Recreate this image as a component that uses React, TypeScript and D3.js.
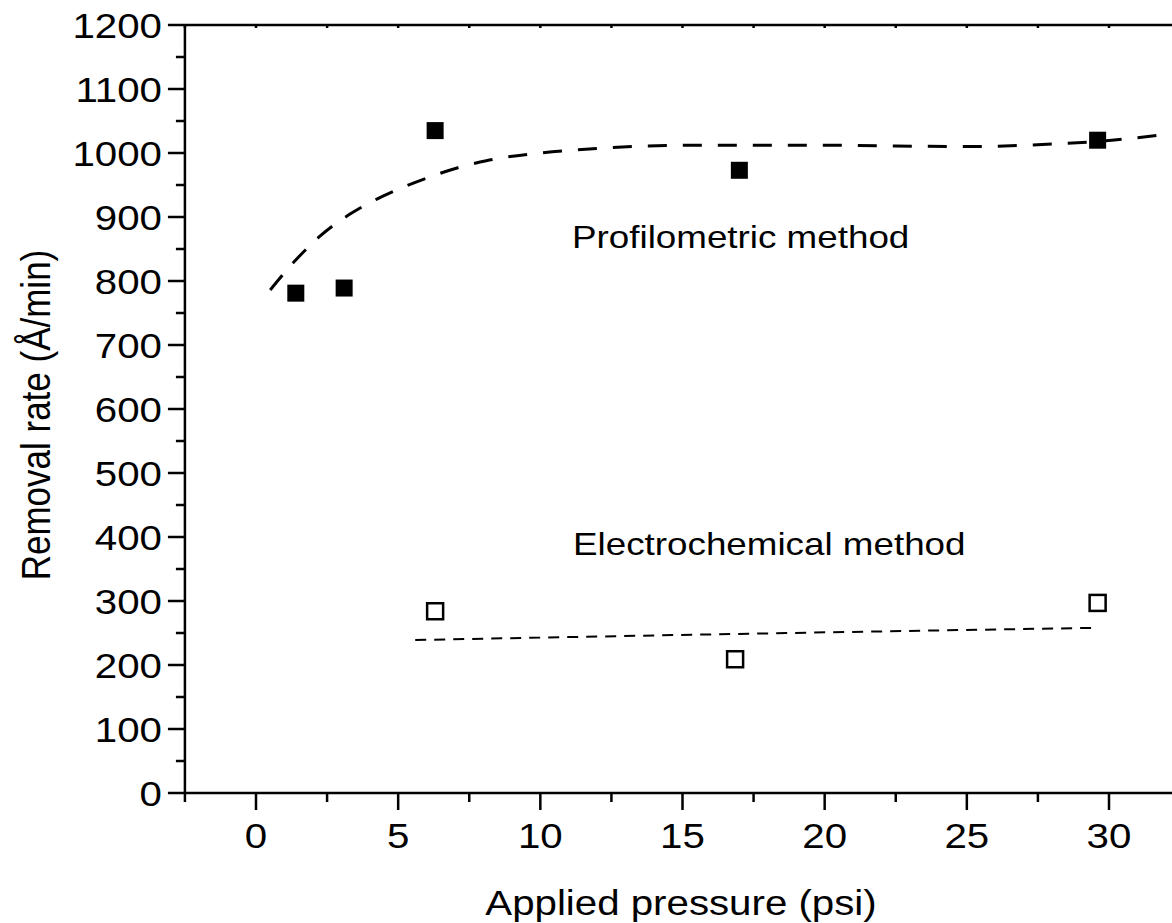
import React from "react";
import * as d3 from "d3";

const profX = [1.4, 3.1, 6.3, 17.0, 29.6];
const profY = [781, 789, 1035, 973, 1020];
const elecX = [6.3, 16.85, 29.6];
const elecY = [284, 209, 297];

const profFitX = [0.5, 1.3, 2.25, 3.25, 4.25, 5.2, 6.2, 7.1, 8.1, 10, 12, 15, 20, 25, 28, 29.6, 31.8];
const profFitY = [786, 828, 870, 903, 928, 947, 964, 977, 988, 1000, 1007, 1012, 1012, 1010, 1014, 1018, 1028];
const elecFitX = [5.6, 17.5, 29.4];
const elecFitY = [239, 249, 258];

const xMajor = [0, 5, 10, 15, 20, 25, 30];
const xMinor = [-2.5, 2.5, 7.5, 12.5, 17.5, 22.5, 27.5];
const yMajor = [0, 100, 200, 300, 400, 500, 600, 700, 800, 900, 1000, 1100, 1200];
const yMinor = [50, 150, 250, 350, 450, 550, 650, 750, 850, 950, 1050, 1150];

const W = 1172;
const H = 923;
const FONT = "Arial, 'Liberation Sans', Helvetica, sans-serif";
const SX = 1.15;

export default function App() {
  const x = d3.scaleLinear().domain([0, 30]).range([256, 1109]);
  const y = d3.scaleLinear().domain([0, 1200]).range([793, 25]);
  const left = x(-2.5);
  const bottom = y(0);
  const top = y(1200);

  const line = d3
    .line<[number, number]>()
    .x((d) => x(d[0]))
    .y((d) => y(d[1]))
    .curve(d3.curveMonotoneX);

  const profFit = profFitX.map((v, i) => [v, profFitY[i]] as [number, number]);
  const elecFit = elecFitX.map((v, i) => [v, elecFitY[i]] as [number, number]);

  const s = 17;
  const so = 16;

  return (
    <svg
      width={W}
      height={H}
      style={{ position: "absolute", left: 0, top: 0, background: "#fff" }}
      fontFamily={FONT}
    >
      <rect x={0} y={0} width={W} height={H} fill="#fff" />
      {/* axes lines */}
      <line x1={left} x2={W} y1={bottom} y2={bottom} stroke="#000" strokeWidth={2.5} />
      <line x1={left} x2={W} y1={top} y2={top} stroke="#000" strokeWidth={2.5} />
      <line x1={left} x2={left} y1={top} y2={bottom} stroke="#000" strokeWidth={2.5} />

      {/* x ticks */}
      {xMajor.map((v) => (
        <g key={"xM" + v}>
          <line x1={x(v)} x2={x(v)} y1={bottom} y2={bottom + 17} stroke="#000" strokeWidth={2.5} />
          <line x1={x(v)} x2={x(v)} y1={top} y2={top + 3} stroke="#000" strokeWidth={2.5} />
          <text
            transform={`translate(${x(v)},${848}) scale(${SX},1)`}
            textAnchor="middle"
            fontSize={35}
          >
            {v}
          </text>
        </g>
      ))}
      {xMinor.map((v) => (
        <g key={"xm" + v}>
          <line x1={x(v)} x2={x(v)} y1={bottom} y2={bottom + 9} stroke="#000" strokeWidth={2.5} />
          <line x1={x(v)} x2={x(v)} y1={top} y2={top + 3} stroke="#000" strokeWidth={2.5} />
        </g>
      ))}

      {/* y ticks */}
      {yMajor.map((v) => (
        <g key={"yM" + v}>
          <line x1={left - 17} x2={left} y1={y(v)} y2={y(v)} stroke="#000" strokeWidth={2.5} />
          <text
            transform={`translate(${162},${y(v) + 12.5}) scale(${SX},1)`}
            textAnchor="end"
            fontSize={35}
          >
            {v}
          </text>
        </g>
      ))}
      {yMinor.map((v) => (
        <line key={"ym" + v} x1={left - 9} x2={left} y1={y(v)} y2={y(v)} stroke="#000" strokeWidth={2.5} />
      ))}

      {/* fits */}
      <path
        d={line(profFit) || ""}
        fill="none"
        stroke="#000"
        strokeWidth={3}
        strokeDasharray="19 16"
      />
      <path
        d={line(elecFit) || ""}
        fill="none"
        stroke="#000"
        strokeWidth={2}
        strokeDasharray="11 8"
      />

      {/* points */}
      {profX.map((v, i) => (
        <rect key={"p" + i} x={x(v) - s / 2} y={y(profY[i]) - s / 2} width={s} height={s} fill="#000" />
      ))}
      {elecX.map((v, i) => (
        <rect
          key={"e" + i}
          x={x(v) - so / 2}
          y={y(elecY[i]) - so / 2}
          width={so}
          height={so}
          fill="#fff"
          stroke="#000"
          strokeWidth={2.5}
        />
      ))}

      {/* annotations */}
      <text transform={`translate(572,248) scale(${SX},1)`} fontSize={32}>
        Profilometric method
      </text>
      <text transform={`translate(573,555) scale(${SX},1)`} fontSize={32}>
        Electrochemical method
      </text>

      {/* axis titles */}
      <text transform={`translate(681,915) scale(${SX},1)`} textAnchor="middle" fontSize={35}>
        Applied pressure (psi)
      </text>
      <text
        transform={`translate(50,415) rotate(-90) scale(1,${SX})`}
        textAnchor="middle"
        fontSize={35}
      >
        Removal rate (Å/min)
      </text>
    </svg>
  );
}
